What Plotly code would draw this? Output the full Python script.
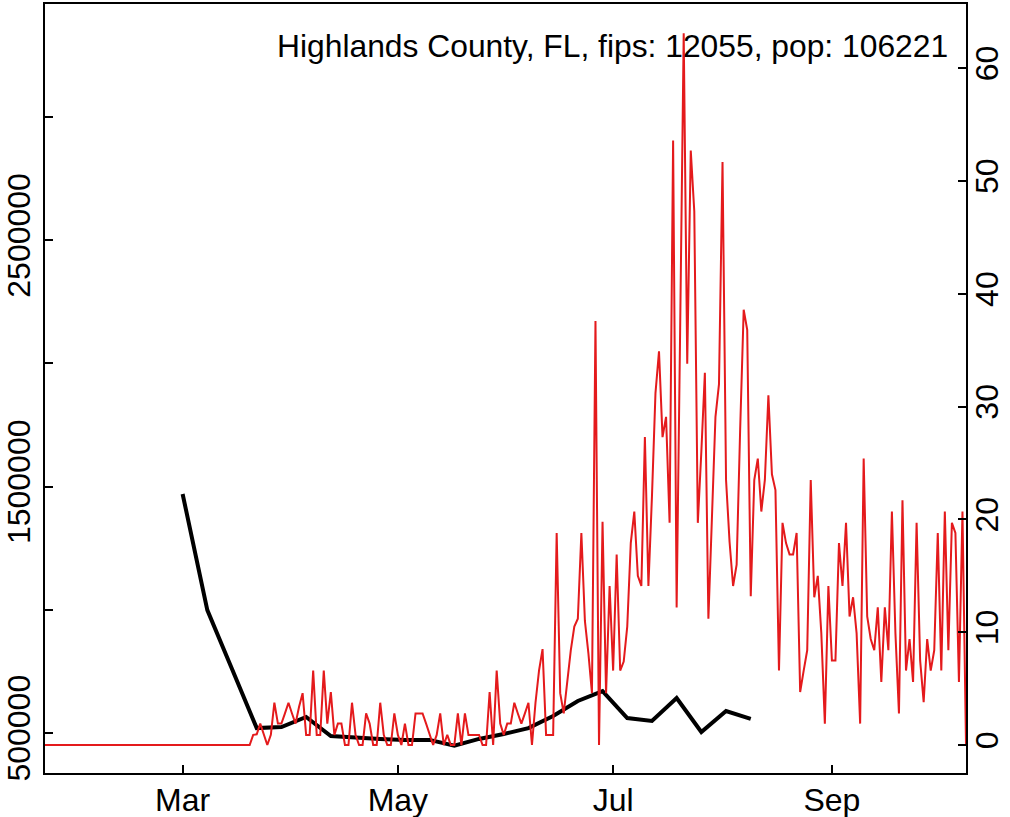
import plotly.graph_objects as go
import pandas as pd

# daily new cases (right axis), one value per day from 2020-01-22
cases_start = "2020-01-22"
daily_cases = [0.0] * 59 + [
    0.9, 0.95, 1.9, 1.0, 0, 0.9, 3.75, 1.9, 1.9, 2.8,
    3.75, 2.8, 1.9, 3.4, 4.6, 0.9, 0.9, 6.6, 0.9, 0.9,
    6.6, 1.9, 4.7, 0.9, 1.9, 1.9, 0, 0, 3.75, 0.9,
    0, 0, 2.8, 1.9, 0, 0, 3.75, 0.9, 0, 0,
    2.8, 0.9, 0, 1.9, 0, 0, 2.8, 2.8, 2.8, 1.9,
    0.9, 0, 0.9, 2.8, 0, 0.9, 0, 0, 2.8, 0,
    2.8, 0.9, 0.9, 0.9, 0.9, 0, 0, 4.7, 0, 6.6,
    1.9, 0.9, 1.9, 1.9, 3.75, 2.8, 1.9, 2.8, 3.75, 0,
    3.75, 6.6, 8.5, 0.9, 0.9, 0.9, 18.8, 4.6, 2.8, 5.6,
    8.4, 10.5, 11.2, 18.8, 11.0, 8.1, 4.6, 37.6, 0, 19.8,
    4.6, 14.1, 6.6, 16.9, 6.6, 7.4, 10.5, 17.9, 20.7, 15.0,
    14.1, 27.3, 14.1, 22.0, 31.2, 34.9, 27.3, 29.1, 19.7, 53.6,
    12.2, 37.0, 63.1, 33.8, 52.7, 47.3, 19.7, 26.0, 33.0, 11.2,
    20.0, 29.1, 32.0, 51.7, 23.5, 18.0, 14.1, 16.0, 28.0, 38.6,
    36.8, 13.2, 23.5, 25.4, 20.7, 23.5, 31.0, 24.0, 22.6, 6.6,
    19.7, 17.9, 16.9, 16.9, 18.8, 4.7, 6.6, 8.4, 23.5, 13.1,
    15.0, 9.9, 1.9, 14.1, 7.5, 7.5, 17.9, 14.1, 19.7, 11.4,
    13.1, 9.9, 1.9, 25.4, 11.4, 9.4, 8.4, 12.2, 5.6, 12.2,
    8.4, 20.7, 9.9, 2.8, 21.7, 6.6, 9.4, 5.6, 19.7, 7.5,
    3.8, 9.4, 6.6, 8.4, 18.8, 6.6, 20.7, 8.4, 19.7, 18.8,
    5.6, 20.7, 0,
]

# weekly series (left axis), one value per week from 2020-03-01
weekly_start = "2020-03-01"
weekly_values = [1470000, 999000, 760000, 520000, 524000, 565000, 488000, 480000,
                 476000, 472000, 472000, 449000, 476000, 496000, 520000, 569000,
                 630000, 670000, 561000, 549000, 642000, 504000, 589000, 557000]

month_ticks = ["2020-03-01", "2020-05-01", "2020-07-01", "2020-09-01"]
month_labels = ["Mar", "May", "Jul", "Sep"]
left_ticks = [500000, 1000000, 1500000, 2000000, 2500000, 3000000]
left_labels = ["500000", "", "1500000", "", "2500000", ""]
right_ticks = [0, 10, 20, 30, 40, 50, 60]
title = "Highlands County, FL, fips: 12055, pop: 106221"

case_dates = pd.date_range(cases_start, periods=len(daily_cases), freq="D")
week_dates = pd.date_range(weekly_start, periods=len(weekly_values), freq="7D")

FONT = "Liberation Sans, Arial, Helvetica, sans-serif"
fs = 32

fig = go.Figure()
fig.add_trace(go.Scatter(x=week_dates, y=weekly_values, mode="lines",
                         line=dict(color="black", width=4), yaxis="y"))
fig.add_trace(go.Scatter(x=case_dates, y=daily_cases, mode="lines",
                         line=dict(color="#E41A1C", width=2), yaxis="y2"))

axis_common = dict(showgrid=False, zeroline=False, showline=True, automargin=False,
                   linecolor="black", linewidth=2, ticks="inside", ticklen=8,
                   tickwidth=2, tickcolor="black",
                   tickfont=dict(family=FONT, size=fs, color="black"))

fig.update_layout(
    width=1010, height=817,
    margin=dict(l=45, r=44, t=4, b=44),
    plot_bgcolor="white", paper_bgcolor="white",
    showlegend=False,
    xaxis=dict(type="date", range=["2020-01-22", "2020-10-09"],
               tickvals=month_ticks, ticktext=month_labels, mirror=True,
               ticklabelstandoff=-2, **axis_common),
    yaxis=dict(range=[337700, 3458600], tickvals=left_ticks, ticktext=left_labels,
               tickangle=-90, mirror=True, **axis_common),
    yaxis2=dict(range=[-2.48, 65.7], tickvals=right_ticks, overlaying="y",
                side="right", tickangle=-90, ticklabelstandoff=-8, **axis_common),
    annotations=[dict(text=title, xref="paper", yref="paper", x=0.9828, y=0.9454,
                      xanchor="right", yanchor="middle", showarrow=False,
                      font=dict(family=FONT, size=31.8, color="black"))],
)

# drop the browser's default page margin so the figure sits at the window origin
fig.write_html("out.html", config={"displayModeBar": False},
               post_script="document.body.style.margin='0';")
